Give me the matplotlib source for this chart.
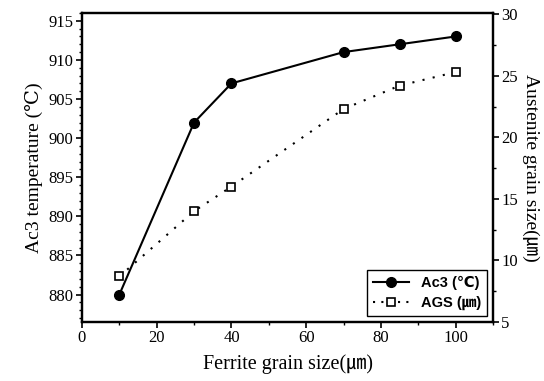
import matplotlib
matplotlib.use("Agg")
import matplotlib.pyplot as plt
from matplotlib.ticker import MultipleLocator
from matplotlib.lines import Line2D

# ferrite grain size (um)
ferrite_size = [10, 30, 40, 70, 85, 100]
# Ac3 transformation temperature (C)
ac3_temp = [880, 902, 907, 911, 912, 913]
# austenite grain size (um)
ags = [8.7, 14.0, 16.0, 22.3, 24.2, 25.3]

serif = ["Liberation Serif", "DejaVu Serif", "Noto Sans CJK JP"]
plt.rcParams["font.family"] = serif

fig = plt.figure(figsize=(5.44, 3.81), dpi=100)
ax = fig.add_axes([0.1507, 0.1549, 0.7556, 0.811])
ax2 = ax.twinx()

ax.plot(ferrite_size, ac3_temp, "-", color="black", lw=1.5,
        marker="o", ms=7, mfc="black", mec="black")
ax2.plot(ferrite_size, ags, linestyle=(0, (1, 4)), color="black", lw=1.5,
         marker="s", ms=6, mfc="white", mec="black", mew=1.2)

ax.set_xlim(0, 110)
ax.set_ylim(876.5, 916)
ax2.set_ylim(5, 30.1)

ax.xaxis.set_major_locator(MultipleLocator(20))
ax.xaxis.set_minor_locator(MultipleLocator(10))
ax.yaxis.set_major_locator(MultipleLocator(5))
ax.yaxis.set_minor_locator(MultipleLocator(1))
ax2.yaxis.set_major_locator(MultipleLocator(5))
ax2.yaxis.set_minor_locator(MultipleLocator(2.5))

for a in (ax, ax2):
    for s in a.spines.values():
        s.set_linewidth(1.6)
    a.tick_params(which="major", direction="out", length=4, width=1.2,
                  labelsize=12, pad=2)
    a.tick_params(which="minor", direction="out", length=2, width=1)

ax.set_xlabel("Ferrite grain size(\u339b)", fontsize=14.5, family=serif, labelpad=6)
ax.set_ylabel("Ac3 temperature (\u2103)", fontsize=14, family=serif, labelpad=4)
ax2.set_ylabel("Austenite grain size(\u339b)", fontsize=14, family=serif,
               rotation=270, labelpad=15)

handles = [
    Line2D([], [], color="black", lw=1.5, marker="o", ms=7),
    Line2D([], [], color="black", lw=1.5, linestyle=(0, (1, 3)),
           marker="s", ms=6, mfc="white", mew=1.2),
]
leg = ax.legend(handles, ["Ac3 (\u2103)", "AGS (\u339b)"], loc="lower right",
                prop={"family": ["Liberation Sans", "DejaVu Sans", "Noto Sans CJK JP"],
                      "weight": "bold", "size": 10.5},
                fancybox=False, edgecolor="black", framealpha=1,
                handlelength=2.5, borderaxespad=0.4, labelspacing=0.4)
leg.get_frame().set_linewidth(1.0)

fig.savefig("out.png", dpi=100)
